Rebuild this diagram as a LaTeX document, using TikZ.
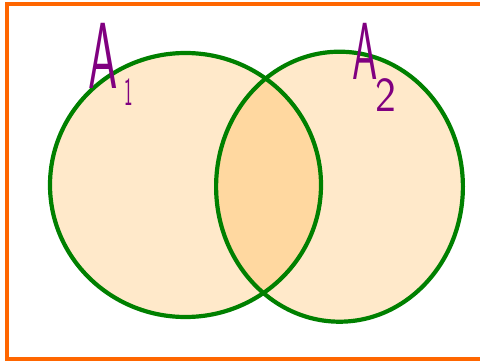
\documentclass[tikz,border=0pt]{standalone}
\definecolor{framec}{RGB}{255,102,0}
\definecolor{ringc}{RGB}{0,128,0}
\definecolor{peach}{RGB}{255,233,202}
\definecolor{peachdark}{RGB}{255,216,160}
\definecolor{labc}{RGB}{128,0,128}
\tikzset{
  frame/.style={draw=framec,line width=4pt},
  ring/.style={draw=ringc,line width=4.2pt},
  biglab/.style={labc,inner sep=0pt,anchor=base,font=\sffamily},
}
\begin{document}
\begin{tikzpicture}[x=1pt,y=-1pt]
\useasboundingbox (0,0) rectangle (480,362);
\fill[white] (0,0) rectangle (480,362);
\draw[frame] (7,4) rectangle (495,359);
\coordinate (c1) at (185.5,185);
\coordinate (c2) at (339.5,186.7);
\fill[peach] (c1) ellipse [x radius=135.5, y radius=132];
\fill[peach] (c2) ellipse [x radius=123.4, y radius=135];
\begin{scope}
  \clip (c1) ellipse [x radius=135.5, y radius=132];
  \fill[peachdark] (c2) ellipse [x radius=123.4, y radius=135];
\end{scope}
\draw[ring] (c1) ellipse [x radius=135.5, y radius=132];
\draw[ring] (c2) ellipse [x radius=123.4, y radius=135];
\node[biglab,xscale=0.5] (a1) at (103,88) {\fontsize{94}{94}\selectfont A};
\node[biglab,xscale=0.45] (s1) at (129,105) {\fontsize{40}{40}\selectfont 1};
\node[biglab,xscale=0.5] (a2) at (365,79) {\fontsize{81}{81}\selectfont A};
\node[biglab,xscale=0.9] (s2) at (386,111) {\fontsize{49}{49}\selectfont 2};
\end{tikzpicture}
\end{document}
